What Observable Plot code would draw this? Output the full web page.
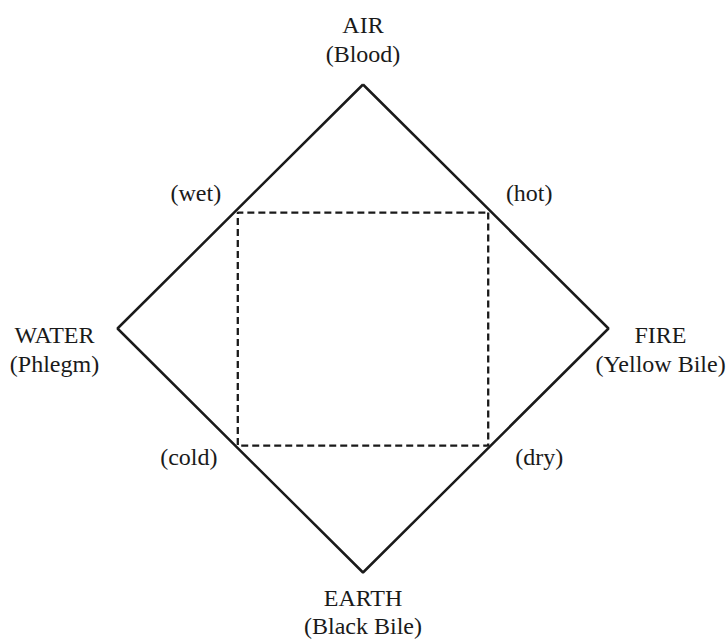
<!DOCTYPE html>
<html><head><meta charset="utf-8">
<script src="https://cdn.jsdelivr.net/npm/d3@7"></script>
<script src="https://cdn.jsdelivr.net/npm/@observablehq/plot@0.6"></script>
<style>body{margin:0;background:#fff} svg{display:block}</style>
</head><body><div id="chart"></div>
<script>
// Four elements at the diamond's vertices (top, right, bottom, left)
const elements = ["AIR", "FIRE", "EARTH", "WATER"];
const humors = ["(Blood)", "(Yellow Bile)", "(Black Bile)", "(Phlegm)"];
const vertexX = [0, 1, 0, -1];
const vertexY = [1, 0, -1, 0];
// Four qualities at the inner square's corners (top-right, bottom-right, bottom-left, top-left)
const qualities = ["(hot)", "(dry)", "(cold)", "(wet)"];
const cornerX = [0.51, 0.51, -0.51, -0.51];
const cornerY = [0.475, -0.48, -0.48, 0.475];

const loop = [0, 1, 2, 3, 0];
const font = "Liberation Serif, Times New Roman, serif";
const ink = "#1a1a1a";

// label offsets (pixels) — styling
const elemOff = [[0, -52], [52, 14], [0, 33], [-63, 14]];
const humorOff = [[0, -23], [52, 43], [0, 61], [-63, 43]];
const qualOff = [[41, -12], [51, 19], [-49, 19], [-42, -12]];

const marks = [
  Plot.line(loop, {x: i => vertexX[i], y: i => vertexY[i], stroke: ink, strokeWidth: 2.5, strokeLinejoin: "miter", strokeLinecap: "butt"}),
  Plot.line(loop, {x: i => cornerX[i], y: i => cornerY[i], stroke: ink, strokeWidth: 2.3, strokeDasharray: "7,4", strokeLinejoin: "miter", strokeLinecap: "butt"})
];
elements.forEach((name, i) => {
  marks.push(Plot.text([i], {x: j => vertexX[j], y: j => vertexY[j], text: j => elements[j], dx: elemOff[i][0], dy: elemOff[i][1], lineAnchor: "bottom", textAnchor: "middle", fontSize: 24, fontFamily: font, fill: ink}));
  marks.push(Plot.text([i], {x: j => vertexX[j], y: j => vertexY[j], text: j => humors[j], dx: humorOff[i][0], dy: humorOff[i][1], lineAnchor: "bottom", textAnchor: "middle", fontSize: 24, fontFamily: font, fill: ink}));
});
qualities.forEach((q, i) => {
  marks.push(Plot.text([i], {x: j => cornerX[j], y: j => cornerY[j], text: j => qualities[j], dx: qualOff[i][0], dy: qualOff[i][1], lineAnchor: "bottom", textAnchor: "middle", fontSize: 24, fontFamily: font, fill: ink}));
});

const chart = Plot.plot({
  width: 728,
  height: 640,
  margin: 0,
  x: {domain: [-1, 1], range: [117, 608], axis: null},
  y: {domain: [-1, 1], range: [572, 84], axis: null},
  style: {background: "#fff", overflow: "visible"},
  marks
});
document.getElementById("chart").append(chart);
</script>
</body></html>
